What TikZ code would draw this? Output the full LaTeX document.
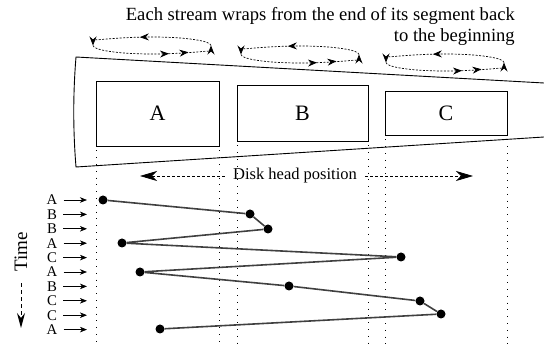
\documentclass[tikz,border=0pt]{standalone}
\usepackage{fontspec}
\setmainfont{Liberation Serif}
\usetikzlibrary{arrows.meta, decorations.markings}

\newcommand{\pxfont}[2]{\fontsize{#1}{#2}\selectfont}

\begin{document}
\begin{tikzpicture}[
    x=1pt, y=-1pt,
    segbox/.style={rectangle, draw, line width=0.9pt, font=\pxfont{22}{24}},
    readpt/.style={circle, fill=black, inner sep=0pt, minimum size=9pt},
    seek/.style={draw=black!75, line width=1.6pt},
    guide/.style={dash pattern=on 0.8pt off 6pt, line width=0.8pt},
    rowlbl/.style={font=\pxfont{14.8}{15}, inner sep=1pt},
    rowarr/.style={-{Stealth[length=7pt,width=5.5pt,inset=2pt]}, line width=0.7pt, shorten <=5pt},
    headarr/.style={-{Stealth[length=17pt,width=10pt,inset=5pt]}, dash pattern=on 3pt off 2pt, line width=0.8pt, shorten <=5pt},
    timearr/.style={-{Stealth[length=15pt,width=8pt,inset=5pt]}, dash pattern=on 4pt off 3pt, line width=1pt, shorten <=8pt},
    wrapline/.style={dash pattern=on 2pt off 1.5pt, line width=0.7pt, -{Stealth[length=9pt,width=7pt,inset=3pt]}},
    wraptop/.style={wrapline, postaction={decorate}, decoration={markings,
        mark=at position 0.6 with {\arrow{Stealth[length=9pt,width=7pt,inset=3pt]}}}},
    wrapbot/.style={wrapline, postaction={decorate}, decoration={markings,
        mark=at position 0.64 with {\arrow{Stealth[length=9pt,width=7pt,inset=3pt]}},
        mark=at position 0.8 with {\arrow{Stealth[length=9pt,width=7pt,inset=3pt]}}}}
]
\useasboundingbox (0,0) rectangle (544,344);

% caption
\node[anchor=north east, inner sep=0pt, align=right, font=\pxfont{18.6}{21.5}] (caption) at (515,7)
    {Each stream wraps from the end of its segment back\\to the beginning};

% wrap loops above the segments
\foreach \cx/\cy/\name in {152/45.5/w1, 300/54.5/w2, 445/62.5/w3} {
  \coordinate (\name) at (\cx,\cy);
  \draw[wraptop] ([xshift=59pt]\name) arc[start angle=0, end angle=180, x radius=59pt, y radius=8.5pt];
  \draw[wrapbot] ([xshift=-59pt]\name) arc[start angle=180, end angle=360, x radius=59pt, y radius=8.5pt];
}

% disk outline
\draw[line width=0.9pt] (544,83) -- (76,57) .. controls (73,94) and (73,130) .. (76,167) -- (544,137);

% segments
\node[segbox, minimum width=123pt, minimum height=65pt] (bA) at (157.5,113.5) {A};
\node[segbox, minimum width=131pt, minimum height=56pt] (bB) at (302.5,113) {B};
\node[segbox, minimum width=122pt, minimum height=44pt] (bC) at (446,113) {C};

\coordinate (bottom) at (0,344);
\foreach \b in {bA,bB,bC} {
  \draw[guide] ([xshift=1pt,yshift=-4pt]\b.south west) -- ([xshift=1pt]\b.south west |- bottom);
  \draw[guide] ([yshift=-4pt]\b.south east) -- (\b.south east |- bottom);
}

% disk head position
\node[font=\pxfont{16.5}{18}] (head) at (295,176) {Disk head position};
\coordinate (headl) at (140,176);
\coordinate (headr) at (473,176);
\draw[headarr] (head) -- (headl);
\draw[headarr] (head) -- (headr);

% time axis
\node[rotate=90, font=\pxfont{19}{20}] (time) at (21,252) {Time};
\coordinate (timeend) at (21,328);
\draw[timearr] (time) -- (timeend);

% requests
\foreach \s [count=\i] in {A,B,B,A,C,A,B,C,C,A} {
  \node[rowlbl] (l\i) at (52,{185.6+14.4*\i}) {\s};
  \coordinate (t\i) at (87,{185.6+14.4*\i});
  \draw[rowarr] (l\i) -- (t\i);
}

% head movement
\node[readpt] (p1) at (103,200) {};
\node[readpt] (p2) at (250,214) {};
\node[readpt] (p3) at (268,229) {};
\node[readpt] (p4) at (122,243) {};
\node[readpt] (p5) at (401,257) {};
\node[readpt] (p6) at (140,272) {};
\node[readpt] (p7) at (289,286) {};
\node[readpt] (p8) at (420,301) {};
\node[readpt] (p9) at (441,314) {};
\node[readpt] (p10) at (160,329) {};
\draw[seek] (p1) -- (p2) -- (p3) -- (p4) -- (p5) -- (p6) -- (p7) -- (p8) -- (p9) -- (p10);

\end{tikzpicture}
\end{document}
